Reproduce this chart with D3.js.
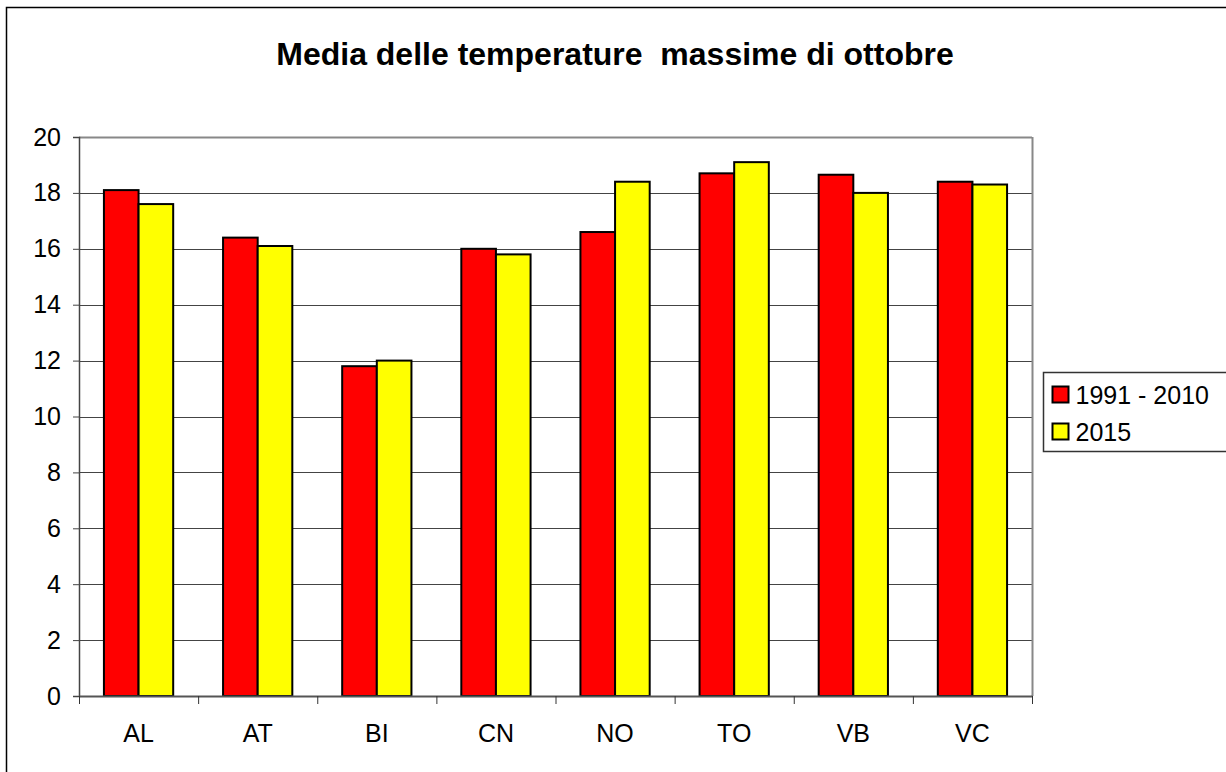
<!DOCTYPE html>
<html>
<head>
<meta charset="utf-8">
<script src="https://cdn.jsdelivr.net/npm/d3@7"></script>
<style>
  body { margin: 0; background: #fff; }
  svg { display: block; font-family: "Liberation Sans", Arial, sans-serif; }
</style>
</head>
<body>
<div id="chart"></div>
<script>
const categories = ['AL', 'AT', 'BI', 'CN', 'NO', 'TO', 'VB', 'VC'];
const seriesNames = ['1991 - 2010', '2015'];
const values1991 = [18.1, 16.4, 11.8, 16.0, 16.6, 18.7, 18.65, 18.4];
const values2015 = [17.6, 16.1, 12.0, 15.8, 18.4, 19.1, 18.0, 18.3];
const yTicks = [0, 2, 4, 6, 8, 10, 12, 14, 16, 18, 20];
const colors = ['#ff0000', '#ffff00'];

const width = 1226;
const height = 772;
const marginLeft = 79;
const marginRight = 194;
const marginTop = 137;
const marginBottom = 76;
const fontSize = 25;

const svg = d3.select('#chart')
  .append('svg')
  .attr('width', width)
  .attr('height', height);

// outer frame
svg.append('rect')
  .attr('x', 6.5).attr('y', 7.5)
  .attr('width', width + 10).attr('height', height + 10)
  .attr('fill', 'none').attr('stroke', '#000').attr('stroke-width', 1.5);

svg.append('text')
  .attr('x', 615).attr('y', 65)
  .attr('text-anchor', 'middle')
  .attr('font-size', 32).attr('font-weight', 'bold')
  .attr('xml:space', 'preserve')
  .text('Media delle temperature  massime di ottobre');

const x = d3.scaleBand()
  .domain(categories)
  .range([marginLeft, width - marginRight]);

const xInner = d3.scaleBand()
  .domain(seriesNames)
  .range([0, x.bandwidth()])
  .paddingOuter(0.72)
  .paddingInner(0);

const y = d3.scaleLinear()
  .domain([0, 20])
  .range([height - marginBottom, marginTop]);

// gridlines
svg.append('g')
  .selectAll('line')
  .data(yTicks.slice(1))
  .join('line')
  .attr('x1', marginLeft).attr('x2', width - marginRight)
  .attr('y1', d => Math.round(y(d)) + 0.5).attr('y2', d => Math.round(y(d)) + 0.5)
  .attr('stroke', d => d === 20 ? '#888' : '#444')
  .attr('stroke-width', d => d === 20 ? 2 : 1);

// right border of plot
svg.append('line')
  .attr('x1', width - marginRight + 0.5).attr('x2', width - marginRight + 0.5)
  .attr('y1', marginTop).attr('y2', height - marginBottom)
  .attr('stroke', '#888').attr('stroke-width', 2);

// bars
const rows = categories.map((c, i) => ({ cat: c, vals: [values1991[i], values2015[i]] }));
svg.append('g')
  .selectAll('g')
  .data(rows)
  .join('g')
  .attr('transform', d => `translate(${x(d.cat)},0)`)
  .selectAll('rect')
  .data(d => d.vals.map((v, j) => ({ key: seriesNames[j], v, j })))
  .join('rect')
  .attr('x', d => xInner(d.key))
  .attr('y', d => y(d.v))
  .attr('width', xInner.bandwidth())
  .attr('height', d => y(0) - y(d.v))
  .attr('fill', d => colors[d.j])
  .attr('stroke', '#000')
  .attr('stroke-width', 2);

// y axis
svg.append('g')
  .attr('transform', `translate(${marginLeft},0)`)
  .call(d3.axisLeft(y).tickValues(yTicks).tickSize(6).tickPadding(12))
  .call(g => g.select('.domain').attr('stroke', '#444').attr('stroke-width', 1.5))
  .call(g => g.selectAll('.tick line').attr('stroke', '#444'))
  .call(g => g.selectAll('.tick text').attr('font-size', fontSize).attr('font-family', 'Liberation Sans, Arial, sans-serif').attr('fill', '#000'));

// x axis
svg.append('g')
  .attr('transform', `translate(0,${height - marginBottom})`)
  .call(d3.axisBottom(x).tickSize(0).tickPadding(28))
  .call(g => g.select('.domain').attr('stroke', '#555').attr('stroke-width', 2))
  .call(g => g.selectAll('.tick text').attr('font-size', fontSize).attr('font-family', 'Liberation Sans, Arial, sans-serif').attr('fill', '#000'));

// category boundary ticks
svg.append('g')
  .selectAll('line')
  .data(categories.concat(['end']))
  .join('line')
  .attr('x1', (d, i) => i < categories.length ? x(d) + 0.5 : width - marginRight + 0.5)
  .attr('x2', (d, i) => i < categories.length ? x(d) + 0.5 : width - marginRight + 0.5)
  .attr('y1', height - marginBottom).attr('y2', height - marginBottom + 8)
  .attr('stroke', '#333');

// legend
const legend = svg.append('g').attr('transform', 'translate(1043.5,372.5)');
legend.append('rect')
  .attr('width', 200).attr('height', 79)
  .attr('fill', '#fff').attr('stroke', '#333').attr('stroke-width', 1.5);
seriesNames.forEach((name, i) => {
  legend.append('rect')
    .attr('x', 9).attr('y', 14 + i * 37)
    .attr('width', 16).attr('height', 16)
    .attr('fill', colors[i]).attr('stroke', '#000').attr('stroke-width', 2);
  legend.append('text')
    .attr('x', 32).attr('y', 31 + i * 37)
    .attr('font-size', fontSize)
    .text(name);
});
</script>
</body>
</html>
